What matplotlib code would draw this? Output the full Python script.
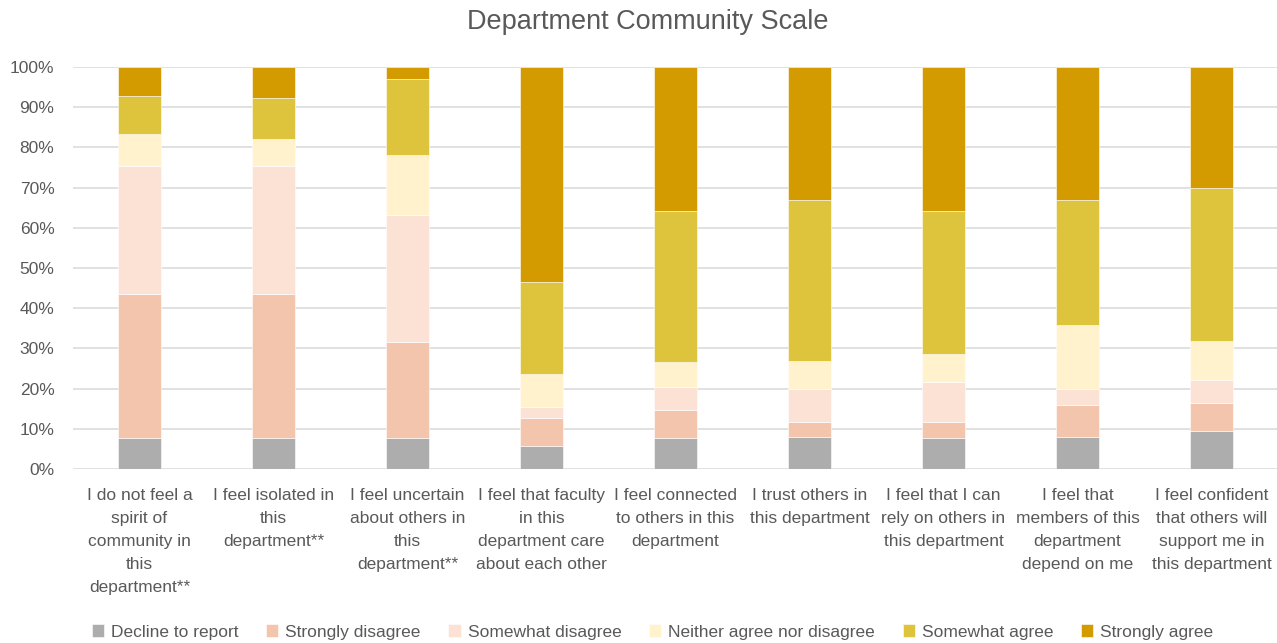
import numpy as np
import matplotlib
matplotlib.use("Agg")
import matplotlib.pyplot as plt

plt.rcParams['font.family'] = ['Liberation Sans', 'DejaVu Sans']

statements = [
    "I do not feel a\nspirit of\ncommunity in\nthis\ndepartment**",
    "I feel isolated in\nthis\ndepartment**",
    "I feel uncertain\nabout others in\nthis\ndepartment**",
    "I feel that faculty\nin this\ndepartment care\nabout each other",
    "I feel connected\nto others in this\ndepartment",
    "I trust others in\nthis department",
    "I feel that I can\nrely on others in\nthis department",
    "I feel that\nmembers of this\ndepartment\ndepend on me",
    "I feel confident\nthat others will\nsupport me in\nthis department",
]

responses = ["Decline to report", "Strongly disagree", "Somewhat disagree",
             "Neither agree nor disagree", "Somewhat agree", "Strongly agree"]
colors = ["#ADADAD", "#F4C5AD", "#FBE2D5", "#FFF2CC", "#DEC33D", "#D39B00"]

# percentage of respondents per statement
decline = [7.7, 7.7, 7.7, 5.6, 7.7, 7.9, 7.7, 7.9, 9.5]
strongly_disagree = [35.8, 35.8, 23.9, 7.0, 6.9, 3.9, 4.1, 7.9, 6.8]
somewhat_disagree = [31.8, 31.8, 31.7, 2.9, 5.9, 8.1, 9.9, 4.1, 5.8]
neither = [8.0, 6.8, 14.7, 8.2, 6.1, 6.9, 6.9, 15.9, 9.8]
somewhat_agree = [9.6, 10.1, 19.0, 22.8, 37.5, 40.1, 35.5, 31.1, 37.9]
strongly_agree = [7.1, 7.8, 3.0, 53.5, 35.9, 33.1, 35.9, 33.1, 30.2]

series = [decline, strongly_disagree, somewhat_disagree,
          neither, somewhat_agree, strongly_agree]

fig = plt.figure(figsize=(12.77, 6.43), dpi=100)
ax = fig.add_axes([72.5 / 1277, 1 - 469 / 643, (1278.5 - 72.5) / 1277, 402 / 643])

x = np.arange(len(statements))
bottom = np.zeros(len(statements))
for name, vals, col in zip(responses, series, colors):
    vals = np.array(vals)
    ax.bar(x, vals, 0.315, bottom=bottom, color=col, label=name,
           edgecolor="white", linewidth=0.4, zorder=3)
    bottom += vals

ax.set_xlim(-0.5, len(statements) - 0.5)
ax.set_ylim(0, 100)
ax.set_yticks(np.arange(0, 101, 10))
ax.set_yticklabels([f"{v}%" for v in range(0, 101, 10)])
ax.yaxis.grid(True, color="#D9D9D9", linewidth=1.1, zorder=0)
ax.set_xticks(x)
ax.set_xticklabels(statements, linespacing=1.66)
ax.tick_params(axis="both", length=0, labelcolor="#595959", labelsize=12.5)
ax.tick_params(axis="x", pad=14)
ax.tick_params(axis="y", pad=13)
for s in ax.spines.values():
    s.set_visible(False)

fig.text(648 / 1277, 1 - 22 / 643, "Department Community Scale", ha="center", va="center",
         fontsize=19.5, color="#595959")

fig.legend(loc="center", bbox_to_anchor=(0.511, 1 - 632 / 643), ncol=6, frameon=False,
           fontsize=12.5, labelcolor="#595959", handlelength=0.7, handleheight=0.7,
           handletextpad=0.4, columnspacing=1.6)

fig.savefig("out.png", dpi=100)
